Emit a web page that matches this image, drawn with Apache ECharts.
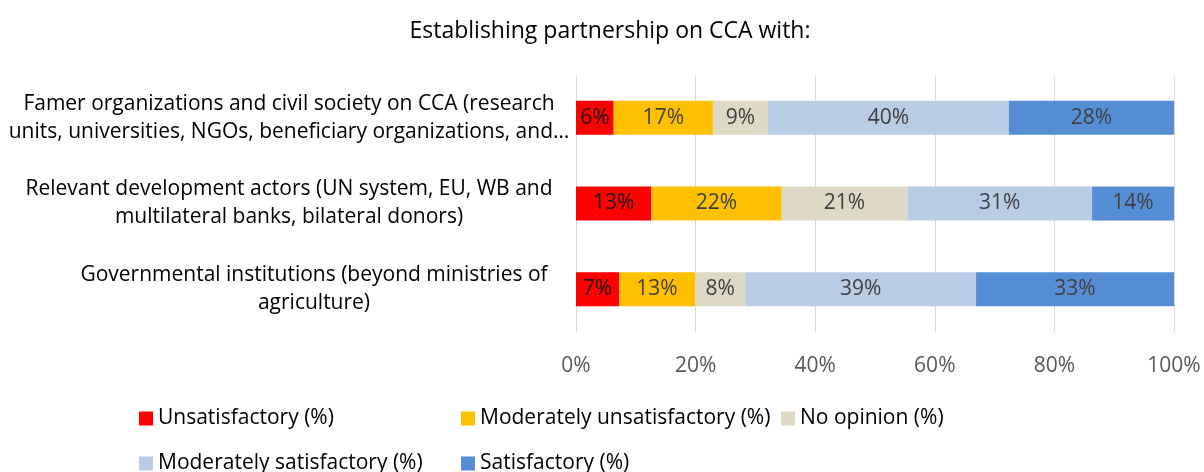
<!DOCTYPE html>
<html>
<head>
<meta charset="utf-8">
<script src="https://cdn.jsdelivr.net/npm/echarts@6/dist/echarts.min.js"></script>
<style>
  html, body { margin: 0; padding: 0; background: #fff; }
  #main { width: 1204px; height: 472px; }
</style>
</head>
<body>
<div id="main"></div>
<script>
const categories = [
  'Famer organizations and civil society on CCA (research\nunits, universities, NGOs, beneficiary organizations, and…',
  'Relevant development actors (UN system, EU, WB and\nmultilateral banks, bilateral donors)',
  'Governmental institutions (beyond ministries of\nagriculture)'
]
const seriesNames = [
  'Unsatisfactory (%)',
  'Moderately unsatisfactory (%)',
  'No opinion (%)',
  'Moderately satisfactory (%)',
  'Satisfactory (%)'
]
const unsatisfactory = [6.3, 12.6, 7.2]
const moderatelyUnsatisfactory = [16.6, 21.8, 12.7]
const noOpinion = [9.2, 21.0, 8.4]
const moderatelySatisfactory = [40.3, 30.9, 38.6]
const satisfactory = [27.6, 13.7, 33.1]
const tickValues = [0, 20, 40, 60, 80, 100]

const colors = ['#FF0000', '#FFC000', '#DDD9C4', '#B8CCE4', '#558ED5']
const values = [unsatisfactory, moderatelyUnsatisfactory, noOpinion, moderatelySatisfactory, satisfactory]
const font = 'Open Sans'

const chart = echarts.init(document.getElementById('main'))

// one legend per item so they sit in the same columns as the original
const legendPos = [
  { left: 139, top: 408 },
  { left: 461, top: 408 },
  { left: 781, top: 408 },
  { left: 139, top: 453 },
  { left: 461, top: 453 }
]

const option = {
  animation: false,
  title: {
    text: 'Establishing partnership on CCA with:',
    left: 605,
    textAlign: 'center',
    top: 15,
    textStyle: { fontFamily: font, fontSize: 23, fontWeight: 'normal', color: '#000' }
  },
  legend: legendPos.map((p, i) => ({
    data: [seriesNames[i]],
    left: p.left,
    top: p.top,
    itemWidth: 14,
    itemHeight: 14,
    itemGap: 0,
    icon: 'rect',
    padding: 0,
    textStyle: { fontFamily: font, fontSize: 21, color: '#000' }
  })),
  grid: {
    left: 576,
    right: 30,
    top: 75,
    height: 257,
    containLabel: false,
    outerBoundsMode: 'none'
  },
  xAxis: {
    type: 'value',
    min: 0,
    max: 100,
    interval: 20,
    axisLine: { show: false },
    axisTick: { show: false },
    splitLine: { lineStyle: { color: '#D9D9D9', width: 1 } },
    axisLabel: {
      formatter: v => tickValues.includes(v) ? v + '%' : '',
      fontFamily: font,
      fontSize: 21,
      color: '#595959',
      margin: 24
    }
  },
  yAxis: {
    type: 'category',
    inverse: true,
    data: categories,
    axisLine: { show: false },
    axisTick: { show: false },
    axisLabel: {
      fontFamily: font,
      fontSize: 21,
      color: '#000',
      align: 'center',
      lineHeight: 28,
      margin: 287,
      // the last label sits a bit further right in the original
      formatter: (v, i) => i === 2 ? v.split('\n').map(s => '{p|' + s + '}').join('\n') : v,
      rich: {
        p: { padding: [0, 0, 0, 50], fontFamily: font, fontSize: 21, lineHeight: 28, color: '#000' }
      }
    }
  },
  series: seriesNames.map((name, i) => ({
    name: name,
    type: 'bar',
    stack: 'total',
    barWidth: 34,
    data: values[i],
    itemStyle: { color: colors[i] },
    label: {
      show: true,
      position: 'inside',
      formatter: p => Math.round(p.value) + '%',
      fontFamily: font,
      fontSize: 21,
      color: i === 0 ? '#1a1a1a' : '#404040'
    }
  }))
}

chart.setOption(option)
</script>
</body>
</html>
